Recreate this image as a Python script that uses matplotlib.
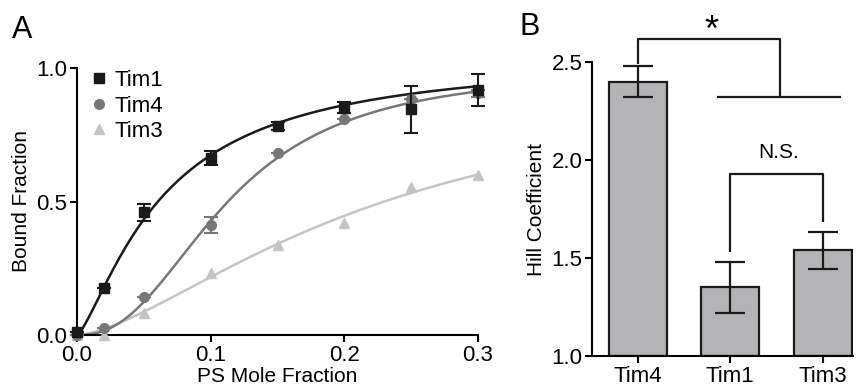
import numpy as np
import matplotlib
matplotlib.use("Agg")
import matplotlib.pyplot as plt
from matplotlib.lines import Line2D

plt.rcParams['font.family'] = ['Liberation Sans', 'DejaVu Sans']

# Panel A: binding data
ps_frac = [0.0, 0.02, 0.05, 0.1, 0.15, 0.2, 0.25, 0.3]
tim1 = [0.01, 0.176, 0.46, 0.663, 0.783, 0.852, 0.846, 0.918]
tim1_err = [0.0, 0.0, 0.032, 0.025, 0.015, 0.022, 0.088, 0.06]
tim4 = [0.0, 0.026, 0.142, 0.412, 0.682, 0.81, 0.884, 0.905]
tim4_err = [0.0, 0.0, 0.0, 0.03, 0.0, 0.0, 0.0, 0.012]
tim3 = [0.0, 0.0, 0.082, 0.232, 0.337, 0.42, 0.556, 0.6]

# Hill fit parameters (Bmax, K); n taken from panel B
fit_bmax = {"Tim1": 1.05, "Tim4": 1.0, "Tim3": 1.0}
fit_k = {"Tim1": 0.065, "Tim4": 0.113, "Tim3": 0.23}

# Panel B: Hill coefficients
proteins = ["Tim4", "Tim1", "Tim3"]
hill = [2.40, 1.35, 1.54]
hill_err = [0.08, 0.13, 0.095]
hill_n = dict(zip(proteins, hill))

c1, c4, c3 = "#1a1a1a", "#777777", "#c4c4c4"

fig = plt.figure(figsize=(8.64, 3.91), dpi=100)

# ---------------- Panel A ----------------
ax = fig.add_axes([77/864, 1-335/391, (478-77)/864, (335-68)/391])
xs = np.linspace(0, 0.3, 200)


def hill_curve(name):
    n = hill_n[name]
    return fit_bmax[name] * xs**n / (fit_k[name]**n + xs**n)


ax.plot(xs, hill_curve("Tim3"), color=c3, lw=1.8, clip_on=False)
ax.plot(xs, hill_curve("Tim4"), color=c4, lw=1.8, clip_on=False)
ax.plot(xs, hill_curve("Tim1"), color=c1, lw=1.8, clip_on=False)

ax.plot(ps_frac, tim3, '^', color=c3, ms=7, clip_on=False, zorder=3)
ax.errorbar(ps_frac, tim4, yerr=tim4_err, fmt='o', color=c4, ms=7,
            capsize=5, elinewidth=1.5, capthick=1.5, clip_on=False, zorder=4)
ax.errorbar(ps_frac, tim1, yerr=tim1_err, fmt='s', color=c1, ms=7,
            capsize=5, elinewidth=1.5, capthick=1.5, clip_on=False, zorder=5)

ax.set_xlim(0, 0.3)
ax.set_ylim(0, 1.0)
ax.set_xticks([0.0, 0.1, 0.2, 0.3])
ax.set_xticklabels(["0.0", "0.1", "0.2", "0.3"])
ax.set_yticks([0.0, 0.5, 1.0])
ax.set_yticklabels(["0.0", "0.5", "1.0"])
for s in ["top", "right"]:
    ax.spines[s].set_visible(False)
for s in ["left", "bottom"]:
    ax.spines[s].set_linewidth(1.5)
ax.tick_params(width=1.5, length=5, labelsize=16, pad=2)
ax.set_xlabel("PS Mole Fraction", fontsize=15, labelpad=1)
ax.set_ylabel("Bound Fraction", fontsize=15, labelpad=4)

handles = [Line2D([], [], ls='none', marker='s', color=c1, ms=7),
           Line2D([], [], ls='none', marker='o', color=c4, ms=7),
           Line2D([], [], ls='none', marker='^', color=c3, ms=7)]
ax.legend(handles, ["Tim1", "Tim4", "Tim3"], loc="upper left",
          bbox_to_anchor=(0.015, 1.025), frameon=False, fontsize=16,
          handlelength=0.6, handletextpad=0.4, labelspacing=0.2, borderaxespad=0)

fig.text(12/864, 1-30/391, "A", fontsize=22, ha="left", va="center")

# ---------------- Panel B ----------------
bx = fig.add_axes([592/864, 1-356/391, (853-592)/864, (356-62)/391])
xpos = np.arange(len(proteins))
bx.bar(xpos, np.array(hill) - 1.0, bottom=1.0, width=0.63, color="#b4b4b6",
       edgecolor="#1a1a1a", linewidth=1.6, zorder=2)
bx.errorbar(xpos, hill, yerr=hill_err, fmt='none', ecolor="#1a1a1a",
            elinewidth=1.6, capsize=11, capthick=1.6, zorder=3)
bx.set_xlim(-0.5, 2.33)
bx.set_ylim(1.0, 2.5)
bx.set_yticks([1.0, 1.5, 2.0, 2.5])
bx.set_yticklabels(["1.0", "1.5", "2.0", "2.5"])
bx.set_xticks(xpos)
bx.set_xticklabels(proteins)
for s in ["top", "right"]:
    bx.spines[s].set_visible(False)
for s in ["left", "bottom"]:
    bx.spines[s].set_linewidth(1.5)
bx.tick_params(width=1.5, length=5, labelsize=16, pad=2)
bx.set_ylabel("Hill Coefficient", fontsize=15, labelpad=4)

lk = dict(color="#1a1a1a", lw=1.6, clip_on=False, solid_capstyle="butt")
# significance bracket *
bx.plot([0, 0, 1.54, 1.54], [2.49, 2.617, 2.617, 2.321], **lk)
bx.plot([0.85, 2.2], [2.321, 2.321], **lk)
bx.text(0.79, 2.655, "*", fontsize=26, ha="center", va="center")
# N.S. bracket
bx.plot([1, 1, 2, 2], [1.531, 1.929, 1.929, 1.684], **lk)
bx.text(1.52, 2.04, "N.S.", fontsize=15, ha="center", va="center")

fig.text(520/864, 1-27/391, "B", fontsize=22, ha="left", va="center")

fig.savefig("out.png", dpi=100)
